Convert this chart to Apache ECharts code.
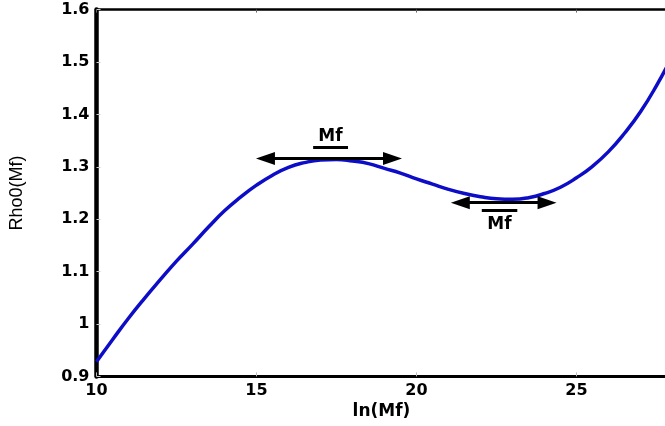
<!DOCTYPE html>
<html>
<head>
<meta charset="utf-8">
<script src="https://cdn.jsdelivr.net/npm/echarts@6/dist/echarts.min.js"></script>
<style>html,body{margin:0;padding:0;background:#fff}#c{width:665px;height:426px}</style>
</head>
<body>
<div id="c"></div>
<script>
// Curve data: ln(Mf) vs Rho0(Mf)
var lnMf = [10, 10.5, 11, 11.5, 12, 12.5, 13, 13.5, 14, 14.5, 15, 15.5, 16, 16.5, 17, 17.5, 18, 18.5, 19, 19.5, 20, 20.5, 21, 21.5, 22, 22.5, 23, 23.5, 24, 24.5, 25, 25.5, 26, 26.5, 27, 27.5, 28];
var rho0 = [0.928, 0.970, 1.011, 1.049, 1.085, 1.120, 1.152, 1.185, 1.216, 1.242, 1.265, 1.284, 1.299, 1.308, 1.313, 1.314, 1.311, 1.306, 1.297, 1.288, 1.277, 1.267, 1.257, 1.249, 1.243, 1.239, 1.238, 1.241, 1.249, 1.261, 1.279, 1.301, 1.329, 1.364, 1.405, 1.455, 1.512];

// Axis ticks
var xTicks = [10, 15, 20, 25, 30];
var yTicks = [0.9, 1.0, 1.1, 1.2, 1.3, 1.4, 1.5, 1.6];

// Annotations (data coordinates)
var arrowTop = [[15.28, 1.316], [19.25, 1.316]];
var arrowBottom = [[21.37, 1.2315], [24.08, 1.2315]];
var underlineTop = [[16.77, 1.3378], [17.86, 1.3378]];
var overlineBottom = [[22.04, 1.2175], [23.15, 1.2175]];
var labelTop = [17.31, 1.3575];
var labelBottom = [22.59, 1.1905];

var data = lnMf.map(function (x, i) { return [x, rho0[i]]; });

var chart = echarts.init(document.getElementById('c'), null, {renderer: 'canvas'});
var tickFont = {fontFamily: 'DejaVu Sans', fontWeight: 'bold', fontSize: 16, color: '#000'};

chart.setOption({
  animation: false,
  backgroundColor: '#fff',
  grid: {left: 96.5, top: 9.6, width: 640, height: 366.8, outerBoundsMode: 'none', containLabel: false},
  xAxis: [{
    type: 'value', min: xTicks[0], max: xTicks[xTicks.length - 1], interval: 5,
    position: 'bottom',
    name: 'ln(Mf)', nameLocation: 'middle', nameGap: 22,
    nameTextStyle: {fontFamily: 'DejaVu Sans', fontWeight: 'bold', fontSize: 17, color: '#000', padding: [0, 70, 0, 0]},
    axisLine: {show: true, onZero: false, lineStyle: {color: '#000', width: 3}},
    axisTick: {show: true, inside: true, length: 4, lineStyle: {color: '#bbb', width: 1}},
    axisLabel: Object.assign({margin: 6}, tickFont),
    splitLine: {show: false}
  }, {
    type: 'value', min: xTicks[0], max: xTicks[xTicks.length - 1], interval: 5,
    position: 'top',
    axisLine: {show: true, onZero: false, lineStyle: {color: '#000', width: 2.5}},
    axisTick: {show: true, inside: true, length: 3, lineStyle: {color: '#666', width: 1}},
    axisLabel: {show: false},
    splitLine: {show: false}
  }],
  yAxis: [{
    type: 'value', min: yTicks[0], max: yTicks[yTicks.length - 1], interval: 0.1,
    name: 'Rho0(Mf)', nameLocation: 'middle', nameGap: 70,
    nameTextStyle: {fontFamily: 'Liberation Sans', fontSize: 18, color: '#000'},
    axisLine: {show: true, onZero: false, lineStyle: {color: '#000', width: 4.5}},
    axisTick: {show: true, inside: true, length: 4, lineStyle: {color: '#ccc', width: 1}},
    axisLabel: Object.assign({margin: 7}, tickFont),
    splitLine: {show: false}
  }],
  series: [{
    type: 'line',
    data: data,
    smooth: true,
    showSymbol: false,
    silent: true,
    lineStyle: {color: '#0d0dc8', width: 3.5},
    markLine: {
      silent: true,
      animation: false,
      label: {show: false},
      emphasis: {disabled: true},
      data: [
        [{coord: arrowTop[0], symbol: 'triangle', symbolSize: [13, 19]}, {coord: arrowTop[1], symbol: 'triangle', symbolSize: [13, 19]}],
        [{coord: arrowBottom[0], symbol: 'triangle', symbolSize: [13, 19]}, {coord: arrowBottom[1], symbol: 'triangle', symbolSize: [13, 19]}],
        [{coord: underlineTop[0], symbol: 'none'}, {coord: underlineTop[1], symbol: 'none'}],
        [{coord: overlineBottom[0], symbol: 'none'}, {coord: overlineBottom[1], symbol: 'none'}]
      ],
      lineStyle: {color: '#000', width: 3, type: 'solid'}
    },
    markPoint: {
      silent: true,
      animation: false,
      symbol: 'rect',
      symbolSize: 1,
      itemStyle: {color: 'rgba(0,0,0,0)'},
      label: {show: true, position: 'inside', formatter: 'Mf', fontFamily: 'DejaVu Sans', fontWeight: 'bold', fontSize: 17, color: '#000'},
      data: [{coord: labelTop}, {coord: labelBottom}]
    }
  }]
});
</script>
</body>
</html>
